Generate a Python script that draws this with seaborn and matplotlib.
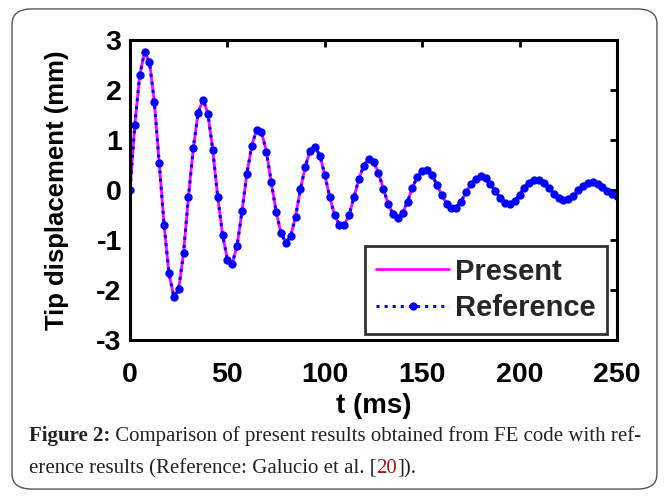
import pandas as pd
import matplotlib.pyplot as plt
import seaborn as sns
from matplotlib.patches import FancyBboxPatch

time_ms = [
    0, 2.5, 5, 7.5, 10, 12.5, 15, 17.5, 20, 22.5,
    25, 27.5, 30, 32.5, 35, 37.5, 40, 42.5, 45, 47.5,
    50, 52.5, 55, 57.5, 60, 62.5, 65, 67.5, 70, 72.5,
    75, 77.5, 80, 82.5, 85, 87.5, 90, 92.5, 95, 97.5,
    100, 102.5, 105, 107.5, 110, 112.5, 115, 117.5, 120, 122.5,
    125, 127.5, 130, 132.5, 135, 137.5, 140, 142.5, 145, 147.5,
    150, 152.5, 155, 157.5, 160, 162.5, 165, 167.5, 170, 172.5,
    175, 177.5, 180, 182.5, 185, 187.5, 190, 192.5, 195, 197.5,
    200, 202.5, 205, 207.5, 210, 212.5, 215, 217.5, 220, 222.5,
    225, 227.5, 230, 232.5, 235, 237.5, 240, 242.5, 245, 247.5,
    250,
]

# tip displacement (mm), FE code ("Present")
present_mm = [
    0.00, 1.31, 2.30, 2.76, 2.56, 1.76, 0.54, -0.70, -1.66, -2.14,
    -1.98, -1.25, -0.14, 0.84, 1.55, 1.81, 1.53, 0.80, -0.13, -0.89,
    -1.39, -1.47, -1.11, -0.42, 0.32, 0.89, 1.20, 1.16, 0.77, 0.16,
    -0.43, -0.86, -1.05, -0.92, -0.53, 0.02, 0.47, 0.79, 0.86, 0.69,
    0.30, -0.14, -0.50, -0.70, -0.70, -0.50, -0.14, 0.22, 0.49, 0.63,
    0.57, 0.35, 0.03, -0.27, -0.48, -0.55, -0.45, -0.23, 0.05, 0.26,
    0.39, 0.40, 0.30, 0.11, -0.10, -0.27, -0.36, -0.35, -0.23, -0.04,
    0.12, 0.23, 0.28, 0.24, 0.13, -0.02, -0.16, -0.26, -0.28, -0.22,
    -0.09, 0.05, 0.15, 0.20, 0.20, 0.14, 0.04, -0.07, -0.16, -0.20,
    -0.18, -0.11, 0.00, 0.08, 0.14, 0.16, 0.13, 0.06, -0.02, -0.08,
    -0.12,
]

# Galucio et al. reference curve (overlaps the present result)
reference_mm = list(present_mm)

x_ticks = [0, 50, 100, 150, 200, 250]
y_ticks = [-3, -2, -1, 0, 1, 2, 3]

df = pd.DataFrame({"t": time_ms, "present": present_mm, "reference": reference_mm})

sns.set_theme(style="white")
plt.rcParams["font.family"] = ["Liberation Sans", "DejaVu Sans"]
plt.rcParams["font.weight"] = "bold"
plt.rcParams["axes.unicode_minus"] = False

fig = plt.figure(figsize=(6.69, 4.97), dpi=100)

# rounded frame around figure + caption
frame = FancyBboxPatch((0.018, 0.016), 0.964, 0.966, boxstyle="round,pad=0,rounding_size=0.03",
                       transform=fig.transFigure, facecolor="none", edgecolor="#555555",
                       linewidth=1.0, figure=fig)
fig.patches.append(frame)

ax = fig.add_axes([130 / 669, 157 / 497, 487 / 669, 300 / 497])

sns.lineplot(data=df, x="t", y="present", ax=ax, color="#ff00ff", linewidth=2.0,
             label="Present", sort=False)
sns.lineplot(data=df, x="t", y="reference", ax=ax, color="#0000ff", linewidth=2.2,
             linestyle=":", marker="o", markersize=6, markeredgewidth=0,
             label="Reference", sort=False)

ax.set_xlim(0, 250)
ax.set_ylim(-3, 3)
ax.set_xticks(x_ticks)
ax.set_yticks(y_ticks)
ax.tick_params(direction="in", length=5, width=2, top=True, right=True,
               labelsize=20.5, colors="black")
ax.tick_params(axis="x", pad=16)
ax.tick_params(axis="y", pad=6)
for lab in ax.get_xticklabels() + ax.get_yticklabels():
    lab.set_fontweight("bold")
for sp in ax.spines.values():
    sp.set_color("black")
    sp.set_linewidth(2.2)

ax.set_xlabel("t (ms)", fontsize=20, fontweight="bold", color="black")
ax.set_ylabel("Tip displacement (mm)", fontsize=18.5, fontweight="bold", color="black")
ax.xaxis.set_label_coords(0.5, -0.178)
ax.yaxis.set_label_coords(-0.125, 0.5)

leg = ax.legend(loc="lower right", bbox_to_anchor=(0.98, 0.02), fontsize=21,
                handlelength=2.5, handletextpad=0.2, borderpad=0.4, labelspacing=0.3,
                frameon=True, fancybox=False, borderaxespad=0)
leg.get_frame().set_edgecolor("black")
leg.get_frame().set_linewidth(2)
for txt in leg.get_texts():
    txt.set_fontweight("bold")

# caption with bold lead-in and red citation number
serif = ["Liberation Serif", "DejaVu Serif"]
cap_size = 15
t1 = fig.text(0.043, 0.113, "Figure 2:", fontsize=cap_size, fontweight="bold",
              family=serif, color="#222222", va="baseline")
ax.annotate(" Comparison of present results obtained from FE code with ref-",
            xy=(1, 0), xycoords=t1, va="bottom", fontsize=cap_size,
            fontweight="normal", family=serif, color="#222222",
            annotation_clip=False)
t2 = fig.text(0.043, 0.048, "erence results (Reference: Galucio et al. [",
              fontsize=cap_size, fontweight="normal", family=serif, color="#222222",
              va="baseline")
t3 = ax.annotate("20", xy=(1, 0), xycoords=t2, va="bottom", fontsize=cap_size,
                 fontweight="normal", family=serif, color="#b01010",
                 annotation_clip=False)
ax.annotate("]).", xy=(1, 0), xycoords=t3, va="bottom", fontsize=cap_size,
            fontweight="normal", family=serif, color="#222222",
            annotation_clip=False)

fig.savefig("out.png", dpi=100)
